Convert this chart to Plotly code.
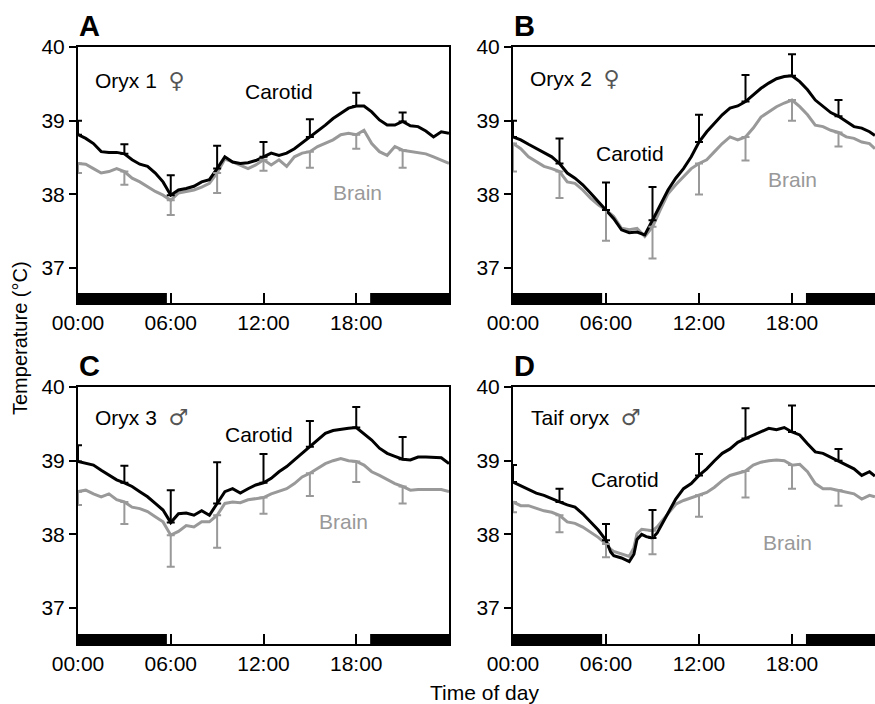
import plotly.graph_objects as go

# ---------------- data ----------------
half_hours = [i * 0.5 for i in range(49)]  # 0 .. 24 h

# Panel A : Oryx 1 (female)
a_time = half_hours
a_carotid = [38.81, 38.76, 38.69, 38.58, 38.57, 38.57, 38.55, 38.47, 38.41, 38.38,
             38.29, 38.17, 37.99, 38.06, 38.08, 38.11, 38.17, 38.20, 38.35, 38.51,
             38.44, 38.42, 38.43, 38.46, 38.51, 38.56, 38.53, 38.56, 38.62, 38.70,
             38.78, 38.85, 38.94, 39.03, 39.10, 39.17, 39.20, 39.20, 39.12, 39.01,
             38.94, 38.94, 38.99, 38.93, 38.92, 38.86, 38.78, 38.85, 38.83]
a_brain = [38.42, 38.41, 38.35, 38.29, 38.31, 38.35, 38.31, 38.22, 38.17, 38.10,
           38.04, 37.99, 37.92, 38.02, 38.04, 38.06, 38.10, 38.15, 38.29, 38.48,
           38.44, 38.40, 38.35, 38.40, 38.47, 38.40, 38.47, 38.38, 38.51, 38.56,
           38.58, 38.65, 38.69, 38.74, 38.81, 38.83, 38.81, 38.87, 38.69, 38.58,
           38.53, 38.65, 38.60, 38.58, 38.56, 38.55, 38.51, 38.47, 38.42]

# Panel B : Oryx 2 (female)
b_time = [i * 0.5 for i in range(47)] + [23.35]
b_carotid = [38.78, 38.74, 38.68, 38.62, 38.57, 38.51, 38.42, 38.29, 38.22, 38.13,
             38.02, 37.90, 37.79, 37.67, 37.52, 37.48, 37.49, 37.45, 37.65, 37.86,
             38.06, 38.22, 38.35, 38.51, 38.71, 38.85, 38.96, 39.08, 39.17, 39.20,
             39.26, 39.35, 39.44, 39.51, 39.57, 39.60, 39.61, 39.53, 39.42, 39.28,
             39.19, 39.11, 39.06, 38.99, 38.92, 38.90, 38.85, 38.80]
b_brain = [38.69, 38.62, 38.51, 38.44, 38.38, 38.35, 38.31, 38.17, 38.15, 38.06,
           37.95, 37.86, 37.79, 37.70, 37.54, 37.52, 37.54, 37.43, 37.56, 37.79,
           38.01, 38.13, 38.24, 38.35, 38.42, 38.47, 38.58, 38.69, 38.78, 38.74,
           38.78, 38.90, 39.05, 39.12, 39.19, 39.24, 39.28, 39.19, 39.08, 38.94,
           38.92, 38.87, 38.84, 38.78, 38.76, 38.71, 38.69, 38.62]

# Panel C : Oryx 3 (male)
c_time = half_hours
c_carotid = [38.99, 38.96, 38.94, 38.87, 38.80, 38.74, 38.70, 38.65, 38.58, 38.51,
             38.42, 38.33, 38.16, 38.28, 38.29, 38.26, 38.32, 38.26, 38.42, 38.58,
             38.62, 38.56, 38.62, 38.67, 38.70, 38.76, 38.85, 38.92, 39.01, 39.10,
             39.19, 39.28, 39.37, 39.41, 39.42, 39.44, 39.45, 39.37, 39.28, 39.17,
             39.10, 39.06, 39.02, 39.01, 39.05, 39.05, 39.05, 39.04, 38.96]
c_brain = [38.58, 38.60, 38.55, 38.51, 38.55, 38.47, 38.44, 38.37, 38.35, 38.31,
           38.24, 38.17, 37.99, 38.04, 38.12, 38.10, 38.17, 38.17, 38.26, 38.42,
           38.44, 38.43, 38.47, 38.49, 38.50, 38.55, 38.58, 38.62, 38.69, 38.78,
           38.83, 38.90, 38.96, 39.00, 39.03, 39.00, 38.99, 38.94, 38.85, 38.80,
           38.74, 38.69, 38.65, 38.60, 38.61, 38.61, 38.62, 38.61, 38.58]

# Panel D : Taif oryx (male)
d_time = [0, 0.5, 1, 1.5, 2, 2.5, 3, 3.5, 4, 4.5, 5, 5.5, 6, 6.3, 6.5, 7, 7.5, 7.8,
          8, 8.3, 8.6, 9, 9.3, 9.5, 10, 10.5, 11, 11.5, 12, 12.5, 13, 13.5, 14,
          14.5, 15, 15.5, 16, 16.5, 17, 17.5, 18, 18.5, 19, 19.5, 20, 20.5, 21,
          21.5, 22, 22.5, 23, 23.35]
d_carotid = [38.71, 38.66, 38.62, 38.56, 38.53, 38.48, 38.44, 38.40, 38.37, 38.28,
             38.17, 38.06, 37.92, 37.76, 37.71, 37.68, 37.63, 37.73, 37.93, 38.00,
             37.97, 37.95, 38.02, 38.10, 38.28, 38.48, 38.62, 38.69, 38.80, 38.89,
             39.00, 39.10, 39.16, 39.25, 39.30, 39.35, 39.39, 39.44, 39.42, 39.45,
             39.39, 39.35, 39.23, 39.12, 39.10, 39.05, 39.00, 38.94, 38.89, 38.80,
             38.85, 38.79]
d_brain = [38.44, 38.39, 38.39, 38.35, 38.32, 38.30, 38.26, 38.17, 38.15, 38.10,
           38.03, 37.96, 37.87, 37.80, 37.77, 37.74, 37.70, 37.82, 38.01, 38.07,
           38.06, 38.05, 38.10, 38.15, 38.28, 38.41, 38.46, 38.50, 38.53, 38.57,
           38.64, 38.73, 38.80, 38.83, 38.86, 38.94, 38.98, 39.00, 39.01, 39.00,
           38.94, 38.95, 38.85, 38.69, 38.62, 38.62, 38.60, 38.58, 38.55, 38.48,
           38.53, 38.51]

# error bars (SD) every 3 h: carotid drawn upward, brain downward
sd_hours = [0, 3, 6, 9, 12, 15, 18, 21]
a_carotid_sd = [0.19, 0.13, 0.27, 0.31, 0.20, 0.24, 0.18, 0.12]
a_brain_sd = [0.13, 0.18, 0.20, 0.27, 0.15, 0.22, 0.19, 0.24]
b_carotid_sd = [0.22, 0.34, 0.37, 0.45, 0.37, 0.36, 0.29, 0.22]
b_brain_sd = [0.38, 0.36, 0.42, 0.43, 0.42, 0.32, 0.28, 0.19]
c_carotid_sd = [0.22, 0.23, 0.44, 0.56, 0.39, 0.35, 0.28, 0.30]
c_brain_sd = [0.18, 0.30, 0.43, 0.44, 0.22, 0.31, 0.28, 0.23]
d_carotid_sd = [0.23, 0.18, 0.22, 0.38, 0.29, 0.41, 0.36, 0.16]
d_brain_sd = [0.14, 0.23, 0.18, 0.32, 0.29, 0.36, 0.32, 0.21]

night_periods = [(0, 5.75), (18.9, 24)]

panel_letters = ["A", "B", "C", "D"]
animal_names = ["Oryx 1", "Oryx 2", "Oryx 3", "Taif oryx"]
animal_sex = ["\u2640", "\u2640", "\u2642", "\u2642"]
x_tick_vals = [0, 6, 12, 18]
x_tick_text = ["00:00", "06:00", "12:00", "18:00"]
y_tick_vals = [37, 38, 39, 40]

# ---------------- styling / layout ----------------
FONT = "Liberation Sans, Arial, sans-serif"
BLACK = "#000000"
GREY = "#999999"
W, H = 875, 704
FS = 21

panels = [
    dict(t=a_time, car=a_carotid, br=a_brain, csd=a_carotid_sd, bsd=a_brain_sd,
         px=(78, 449), py=(47, 303), xmax=24, right=True,
         lab=(0.97, 39.55), carl=(13.0, 39.39), brl=(18.06, 38.02)),
    dict(t=b_time, car=b_carotid, br=b_brain, csd=b_carotid_sd, bsd=b_brain_sd,
         px=(513, 875), py=(47, 303), xmax=(875 - 513) / 15.5, right=False,
         lab=(0.97, 39.57), carl=(7.55, 38.56), brl=(18.0, 38.20)),
    dict(t=c_time, car=c_carotid, br=c_brain, csd=c_carotid_sd, bsd=c_brain_sd,
         px=(78, 449), py=(387, 644), xmax=24, right=True,
         lab=(0.97, 39.58), carl=(11.74, 39.35), brl=(17.2, 38.17)),
    dict(t=d_time, car=d_carotid, br=d_brain, csd=d_carotid_sd, bsd=d_brain_sd,
         px=(513, 875), py=(387, 644), xmax=(875 - 513) / 15.5, right=False,
         lab=(1.03, 39.58), carl=(7.23, 38.75), brl=(17.74, 37.89)),
]

fig = go.Figure()
layout = dict(width=W, height=H, margin=dict(l=0, r=0, t=0, b=0, autoexpand=False),
              plot_bgcolor="white", paper_bgcolor="white", showlegend=False,
              template="none",
              font=dict(family=FONT, size=FS, color=BLACK))
annotations = []
shapes = []

for i, p in enumerate(panels):
    n = i + 1
    xa = "x" if n == 1 else f"x{n}"
    ya = "y" if n == 1 else f"y{n}"
    xkey = "xaxis" if n == 1 else f"xaxis{n}"
    ykey = "yaxis" if n == 1 else f"yaxis{n}"
    x0, x1 = p["px"]
    ytop, ybot = p["py"]
    ymin = 40 - (ybot - ytop) / 73.7

    layout[xkey] = dict(domain=[x0 / W, min(x1 / W, 1.0)], range=[0, p["xmax"]],
                        anchor=ya, tickvals=x_tick_vals, ticktext=x_tick_text,
                        ticks="inside", ticklen=10, tickwidth=2, tickcolor=BLACK,
                        showline=True, linewidth=2, linecolor=BLACK, mirror=True,
                        showgrid=False, zeroline=False, automargin=False,
                        tickfont=dict(size=FS, family=FONT, color=BLACK))
    layout[ykey] = dict(domain=[1 - ybot / H, 1 - ytop / H], range=[ymin, 40],
                        anchor=xa, tickvals=y_tick_vals,
                        ticks="outside", ticklen=7, tickwidth=2, tickcolor=BLACK,
                        showline=True, linewidth=2, linecolor=BLACK,
                        mirror=p["right"], showgrid=False, zeroline=False,
                        automargin=False,
                        tickfont=dict(size=FS, family=FONT, color=BLACK))

    # brain line
    fig.add_trace(go.Scatter(x=p["t"], y=p["br"], mode="lines", xaxis=xa, yaxis=ya,
                             line=dict(color=GREY, width=3), hoverinfo="skip"))
    # carotid line
    fig.add_trace(go.Scatter(x=p["t"], y=p["car"], mode="lines", xaxis=xa, yaxis=ya,
                             line=dict(color=BLACK, width=3), hoverinfo="skip"))

    idx = [p["t"].index(h) for h in sd_hours]
    br_at = [p["br"][k] for k in idx]
    car_at = [p["car"][k] for k in idx]
    fig.add_trace(go.Scatter(x=sd_hours, y=br_at, mode="markers", xaxis=xa, yaxis=ya,
                             marker=dict(size=1, color="rgba(0,0,0,0)"),
                             error_y=dict(type="data", symmetric=False,
                                          array=[0] * len(sd_hours), arrayminus=p["bsd"],
                                          color=GREY, thickness=2, width=4),
                             hoverinfo="skip"))
    fig.add_trace(go.Scatter(x=sd_hours, y=car_at, mode="markers", xaxis=xa, yaxis=ya,
                             marker=dict(size=1, color="rgba(0,0,0,0)"),
                             error_y=dict(type="data", symmetric=False,
                                          array=p["csd"], arrayminus=[0] * len(sd_hours),
                                          color=BLACK, thickness=2, width=4),
                             hoverinfo="skip"))

    # night bars
    for (s, e) in night_periods:
        shapes.append(dict(type="rect", xref=xa, yref=f"{ya} domain",
                           x0=s, x1=min(e, p["xmax"] + 1), y0=0, y1=10 / (ybot - ytop),
                           fillcolor=BLACK, line=dict(width=0), layer="above"))

    # texts
    annotations.append(dict(text=f"<b>{panel_letters[i]}</b>", xref="paper", yref="paper",
                            x=(x0 - 1) / W, y=1 - (ytop - 21) / H, xanchor="left",
                            yanchor="middle", showarrow=False,
                            font=dict(size=29, family=FONT, color=BLACK)))
    label = (f"{animal_names[i]}  <span style=\"font-family:'DejaVu Sans';"
             f"font-size:22px;color:#555555\">{animal_sex[i]}</span>")
    annotations.append(dict(text=label, xref=xa, yref=ya, x=p["lab"][0],
                            y=p["lab"][1], xanchor="left", yanchor="middle",
                            showarrow=False, font=dict(size=FS, family=FONT, color=BLACK)))
    annotations.append(dict(text="Carotid", xref=xa, yref=ya, x=p["carl"][0],
                            y=p["carl"][1], xanchor="center", yanchor="middle",
                            showarrow=False, font=dict(size=FS, family=FONT, color=BLACK)))
    annotations.append(dict(text="Brain", xref=xa, yref=ya, x=p["brl"][0],
                            y=p["brl"][1], xanchor="center", yanchor="middle",
                            showarrow=False, font=dict(size=FS, family=FONT, color=GREY)))

annotations.append(dict(text="Temperature (\u00b0C)", xref="paper", yref="paper",
                        x=20 / W, y=1 - 338 / H, textangle=-90, showarrow=False,
                        xanchor="center", yanchor="middle",
                        font=dict(size=20, family=FONT, color=BLACK)))
annotations.append(dict(text="Time of day", xref="paper", yref="paper",
                        x=484 / W, y=1 - 692 / H, showarrow=False,
                        xanchor="center", yanchor="middle",
                        font=dict(size=FS, family=FONT, color=BLACK)))

layout["annotations"] = annotations
layout["shapes"] = shapes
fig.update_layout(**layout)
fig.write_html("out.html")
